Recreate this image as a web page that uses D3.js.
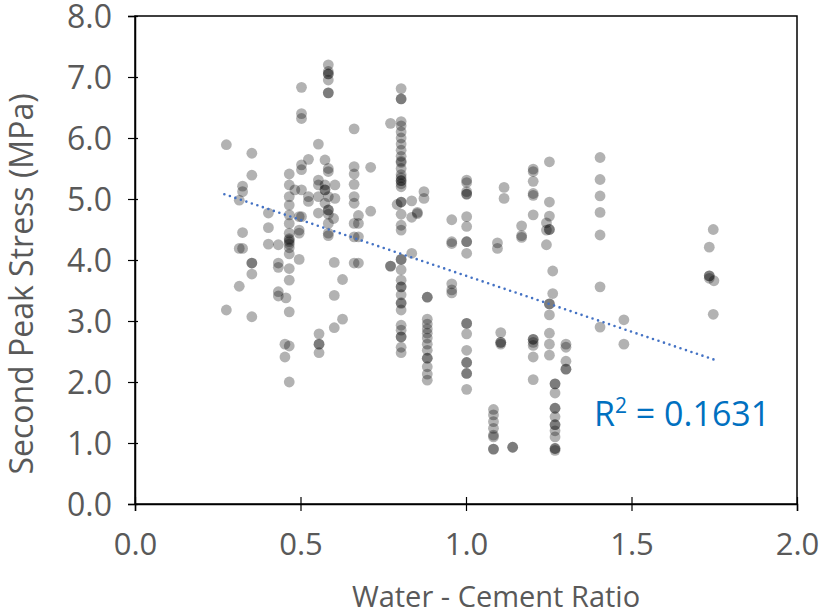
<!DOCTYPE html>
<html>
<head>
<meta charset="utf-8">
<script src="https://cdn.jsdelivr.net/npm/d3@7"></script>
<style>
  body { margin: 0; background: #fff; }
  text { font-family: "Open Sans", sans-serif; }
</style>
</head>
<body>
<script>
const width = 823, height = 614
const margin = ({top: 16, right: 26, bottom: 110, left: 135})

// water-cement ratio of each column of samples, and the stresses measured there
const columnX = [0.276, 0.315, 0.325, 0.353, 0.403, 0.433, 0.453, 0.456, 0.466, 0.483,
  0.496, 0.503, 0.524, 0.554, 0.556, 0.574, 0.584, 0.6, 0.602, 0.604,
  0.627, 0.662, 0.675, 0.712, 0.772, 0.792, 0.804, 0.836, 0.853, 0.873,
  0.883, 0.957, 1.002, 1.083, 1.095, 1.105, 1.115, 1.141, 1.168, 1.203,
  1.243, 1.252, 1.262, 1.269, 1.302, 1.405, 1.477, 1.735, 1.747, 1.749]
const columnStress = [
  [5.89, 3.18],
  [4.98, 4.19, 3.57],
  [5.21, 5.12, 4.45, 4.19],
  [5.75, 5.39, 3.95, 3.95, 3.77, 3.07],
  [4.77, 4.53, 4.26],
  [4.25, 3.95, 3.88, 3.48, 3.41],
  [2.62, 2.41],
  [3.38],
  [5.41, 5.23, 5.04, 4.9, 4.74, 4.6, 4.44, 4.35, 4.33, 4.3, 4.26, 4.2, 4.1, 3.86, 3.67, 3.15, 2.59, 2.0],
  [5.15],
  [4.71, 4.49, 4.44, 4.01],
  [6.83, 6.4, 6.32, 5.56, 5.48, 5.15, 4.71],
  [5.65, 5.04, 4.96],
  [5.9, 5.31, 5.23, 5.04, 4.77],
  [2.79, 2.62, 2.62, 2.48],
  [5.64, 5.23, 5.15, 5.15, 4.93],
  [7.2, 7.09, 7.05, 7.05, 6.95, 6.74, 6.74, 5.5, 5.45, 5.04, 4.82, 4.82, 4.75, 4.6, 4.44, 4.4],
  [4.68],
  [3.96, 3.42, 2.89],
  [5.23, 5.01],
  [3.68, 3.03],
  [6.15, 5.53, 5.41, 5.24, 5.04, 4.93, 4.6, 4.38, 3.95],
  [4.73, 4.6, 4.38, 3.95],
  [5.52, 4.8],
  [6.24, 3.9, 3.9],
  [4.91],
  [6.81, 6.64, 6.64, 6.27, 6.2, 6.1, 6.0, 5.9, 5.8, 5.7, 5.62, 5.6, 5.5, 5.4, 5.35, 5.3, 5.3, 5.25, 5.2,
   4.95, 4.95, 4.75, 4.57, 4.49, 4.01, 4.01, 3.84, 3.67, 3.56, 3.56, 3.43, 3.3, 3.29, 3.18,
   2.93, 2.85, 2.74, 2.74, 2.57, 2.48],
  [4.97, 4.7, 4.11],
  [4.78, 4.76],
  [5.12, 5.01],
  [3.39, 3.39, 3.03, 2.95, 2.87, 2.8, 2.72, 2.62, 2.52, 2.39, 2.39, 2.25, 2.13, 2.03],
  [4.66, 4.3, 4.27, 3.61, 3.51, 3.46],
  [5.31, 5.27, 5.12, 5.08, 5.08, 4.71, 4.55, 4.3, 4.3, 4.11, 2.96, 2.96, 2.79, 2.52, 2.32, 2.32, 2.14, 2.14, 1.88],
  [1.55, 1.46, 1.35, 1.24, 1.13, 1.1, 0.9, 0.9],
  [4.28, 4.19],
  [2.81, 2.65, 2.65, 2.62],
  [5.19, 5.01],
  [0.93, 0.93],
  [4.56, 4.4, 4.37],
  [5.49, 5.45, 5.29, 5.09, 5.06, 4.74, 2.7, 2.7, 2.65, 2.6, 2.41, 2.04],
  [4.61, 4.49, 4.25],
  [5.61, 4.95, 4.72, 4.5, 4.5, 3.28, 3.28, 3.1, 2.8, 2.62, 2.44],
  [3.82, 3.45],
  [1.97, 1.97, 1.82, 1.57, 1.57, 1.43, 1.3, 1.3, 1.2, 1.1, 0.91, 0.91, 0.88],
  [2.62, 2.57, 2.34, 2.21, 2.21],
  [5.68, 5.32, 5.05, 4.78, 4.41, 3.56, 2.9],
  [3.02, 2.62],
  [4.21, 3.74, 3.74, 3.7],
  [4.5, 3.11],
  [3.66]
]

const xTicks = [0, 0.5, 1.0, 1.5, 2.0]
const yTicks = [0, 1, 2, 3, 4, 5, 6, 7, 8]

// linear trendline
const trendSlope = -1.833, trendIntercept = 5.574
const trendRange = [0.27, 1.75]
const rSquared = "0.1631"

const points = columnX.flatMap((wc, i) => columnStress[i].map(s => ({wc, s})))

const x = d3.scaleLinear([0, 2], [margin.left, width - margin.right])
const y = d3.scaleLinear([0, 8], [height - margin.bottom, margin.top])

const svg = d3.select("body").append("svg")
    .attr("width", width)
    .attr("height", height)

// plot area frame (top/right)
svg.append("rect")
    .attr("x", x(0)).attr("y", y(8))
    .attr("width", x(2) - x(0)).attr("height", y(0) - y(8))
    .attr("fill", "none")
    .attr("stroke", "#000")
    .attr("stroke-width", 1.5)

const gx = svg.append("g")
    .attr("transform", `translate(0,${y(0)})`)
    .call(d3.axisBottom(x).tickValues(xTicks).tickFormat(d3.format(".1f")).tickSize(7).tickPadding(22))
gx.select(".domain").attr("stroke-width", 1.5)
gx.selectAll(".tick line").attr("y1", -7).attr("stroke-width", 1.2)
gx.selectAll(".tick text")
    .attr("fill", "#595959")
    .style("font-size", "31px")

const gy = svg.append("g")
    .attr("transform", `translate(${x(0)},0)`)
    .call(d3.axisLeft(y).tickValues(yTicks).tickFormat(d3.format(".1f")).tickSize(7).tickPadding(16))
gy.select(".domain").attr("stroke-width", 1.5)
gy.selectAll(".tick line").attr("x1", 3).attr("stroke-width", 1.2)
gy.selectAll(".tick text")
    .attr("fill", "#595959")
    .attr("dy", "0.36em")
    .style("font-size", "32px")

// scatter
svg.append("g")
    .selectAll("circle")
    .data(points)
    .join("circle")
    .attr("cx", d => x(d.wc))
    .attr("cy", d => y(d.s))
    .attr("r", 5.4)
    .attr("fill", "#000")
    .attr("fill-opacity", 0.3)

// trendline
svg.append("line")
    .attr("x1", x(trendRange[0]))
    .attr("y1", y(trendIntercept + trendSlope * trendRange[0]))
    .attr("x2", x(trendRange[1]))
    .attr("y2", y(trendIntercept + trendSlope * trendRange[1]))
    .attr("stroke", "#4472C4")
    .attr("stroke-width", 2.6)
    .attr("stroke-linecap", "round")
    .attr("stroke-dasharray", "0,5.8")

const r2 = svg.append("text")
    .attr("x", 594)
    .attr("y", 426)
    .attr("fill", "#0070C0")
    .style("font-size", "34px")
r2.append("tspan").text("R")
r2.append("tspan").attr("dy", -13).style("font-size", "21px").text("2")
r2.append("tspan").attr("dy", 13).text(" = " + rSquared)

// axis titles
svg.append("text")
    .attr("x", 496)
    .attr("y", 607)
    .attr("text-anchor", "middle")
    .attr("fill", "#595959")
    .style("font-size", "29px")
    .text("Water - Cement Ratio")

svg.append("text")
    .attr("transform", `translate(33,${284}) rotate(-90)`)
    .attr("text-anchor", "middle")
    .attr("fill", "#595959")
    .style("font-size", "32px")
    .text("Second Peak Stress (MPa)")
</script>
</body>
</html>
